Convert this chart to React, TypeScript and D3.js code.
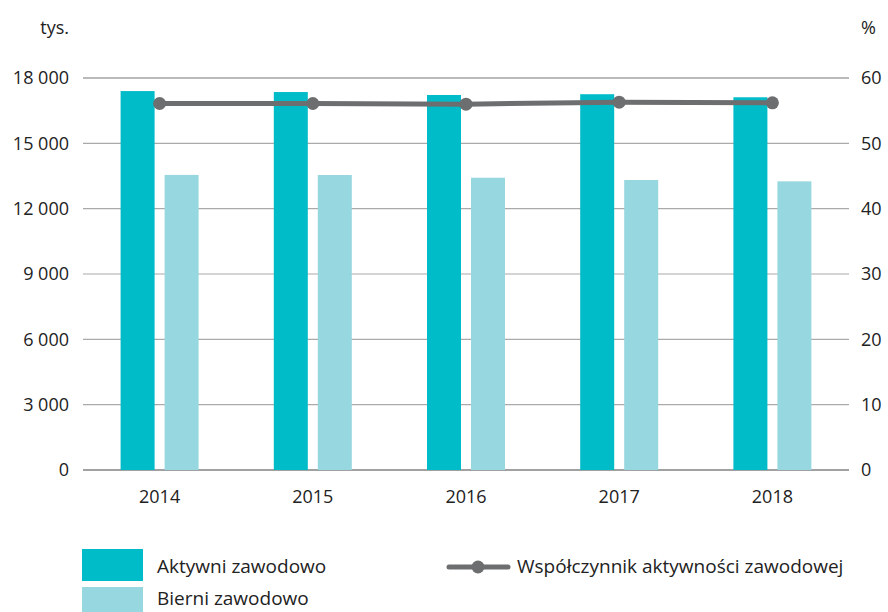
import React from 'react';
import * as d3 from 'd3';

const years = ['2014', '2015', '2016', '2017', '2018'];
const aktywni = [17400, 17355, 17220, 17255, 17115];
const bierni = [13550, 13545, 13420, 13315, 13255];
const wspolczynnik = [56.1, 56.1, 56.0, 56.3, 56.2];
const leftTicks = [0, 3000, 6000, 9000, 12000, 15000, 18000];
const rightTicks = [0, 10, 20, 30, 40, 50, 60];

const font = '"Open Sans", sans-serif';
const cActive = '#00bcc8';
const cInactive = '#97d7df';
const cLine = '#6d6e70';

export default function App() {
  const width = 888;
  const height = 612;
  const margin = { left: 83, right: 39, top: 78, bottom: 142 };

  const x = d3.scaleBand().domain(years).range([margin.left, width - margin.right]);
  const yL = d3.scaleLinear().domain([0, 18000]).range([height - margin.bottom, margin.top]);
  const yR = d3.scaleLinear().domain([0, 60]).range([height - margin.bottom, margin.top]);

  const barW = 34;
  const gap = 10;
  const fmt = (v: number) => d3.format(',')(v).replace(/,/g, ' ');

  const line = d3.line<number>()
    .x((d, i) => x(years[i])! + x.bandwidth() / 2)
    .y(d => yR(d));

  const x0 = margin.left;
  const x1 = width - margin.right;
  const fs = 18;

  return (
    <svg width={width} height={height} style={{ position: 'absolute', left: 0, top: 0 }} fontFamily={font}>
      <text x={69} y={28} dy="0.35em" textAnchor="end" fontSize={fs} fill="#222">tys.</text>
      <text x={861} y={28} dy="0.35em" fontSize={fs} fill="#222">%</text>

      {leftTicks.map(t => (
        <g key={t}>
          <line x1={x0} x2={x1} y1={yL(t)} y2={yL(t)}
            stroke={t === 0 ? '#444' : t === 18000 ? '#777' : '#aaa'} strokeWidth={1.2} />
          <text x={69} y={yL(t)} dy="0.35em" textAnchor="end" fontSize={fs} fill="#222">{fmt(t)}</text>
        </g>
      ))}
      {rightTicks.map(t => (
        <text key={t} x={861} y={yR(t)} dy="0.35em" fontSize={fs} fill="#222">{t}</text>
      ))}

      {years.map((yr, i) => {
        const c = x(yr)! + x.bandwidth() / 2;
        return (
          <g key={yr}>
            <rect x={c - gap / 2 - barW} y={yL(aktywni[i])} width={barW}
              height={yL(0) - yL(aktywni[i])} fill={cActive} />
            <rect x={c + gap / 2} y={yL(bierni[i])} width={barW}
              height={yL(0) - yL(bierni[i])} fill={cInactive} />
            <text x={c} y={497} dy="0.35em" textAnchor="middle" fontSize={fs} fill="#222">{yr}</text>
          </g>
        );
      })}

      <path d={line(wspolczynnik)!} fill="none" stroke={cLine} strokeWidth={5} />
      {wspolczynnik.map((v, i) => (
        <circle key={i} cx={x(years[i])! + x.bandwidth() / 2} cy={yR(v)} r={6.5} fill={cLine} />
      ))}

      <rect x={82} y={549} width={61} height={32} fill={cActive} />
      <text x={157} y={566} dy="0.35em" fontSize={19} fill="#222">Aktywni zawodowo</text>
      <rect x={82} y={587} width={61} height={30} fill={cInactive} />
      <text x={157} y={598} dy="0.35em" fontSize={19} fill="#222">Bierni zawodowo</text>

      <line x1={449} x2={508} y1={567} y2={567} stroke={cLine} strokeWidth={5} strokeLinecap="round" />
      <circle cx={478} cy={567} r={6.5} fill={cLine} />
      <text x={517} y={566} dy="0.35em" fontSize={19} fill="#222">Współczynnik aktywności zawodowej</text>
    </svg>
  );
}
